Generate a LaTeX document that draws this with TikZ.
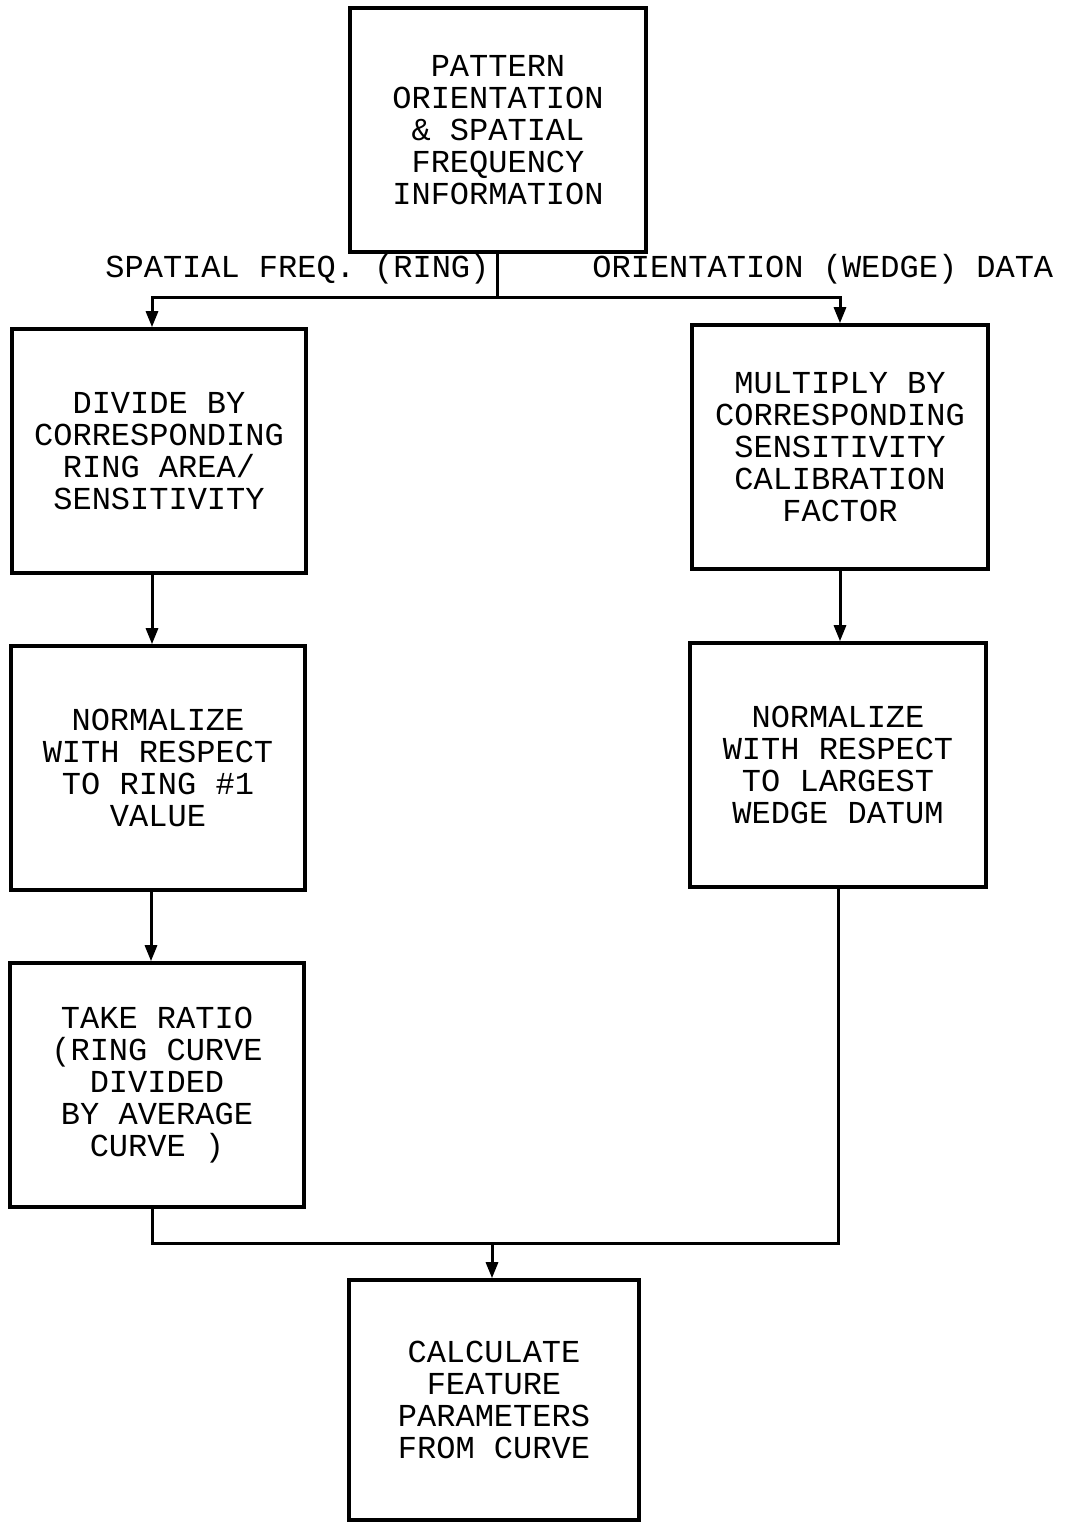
\documentclass[tikz,border=0pt]{standalone}
\usepackage{fontspec}
\setmonofont{Liberation Mono}
\usetikzlibrary{arrows.meta}

\begin{document}
\begin{tikzpicture}[
    x=0.5pt, y=-0.5pt,
    stepbox/.style={draw, line width=1.8pt,
                    minimum width=147pt, minimum height=122pt,
                    align=center, font=\ttfamily\fontsize{16}{16}\selectfont},
    lbl/.style={anchor=base west, inner sep=0pt,
                font=\ttfamily\fontsize{16}{16}\selectfont},
    arr/.style={-{Triangle[length=8pt, width=6pt]}, line width=1.5pt},
    wire/.style={line width=1.5pt}
]
\useasboundingbox (0,0) rectangle (1065,1523);

% Source
\node[stepbox, minimum width=148pt] (info) at (498, 130)
  {PATTERN\\ORIENTATION\\\& SPATIAL\\FREQUENCY\\INFORMATION};

\node[lbl] (ringlbl)  at (105, 277) {SPATIAL FREQ. (RING)};
\node[lbl] (wedgelbl) at (592, 277) {ORIENTATION (WEDGE) DATA};

% Ring branch
\node[stepbox] (divide) at (159, 451)
  {DIVIDE BY\\CORRESPONDING\\RING AREA/\\SENSITIVITY};
\node[stepbox] (normring) at (158, 768)
  {NORMALIZE\\WITH RESPECT\\TO RING \#1\\VALUE};
\node[stepbox] (ratio) at (157, 1085)
  {TAKE RATIO\\(RING CURVE\\DIVIDED\\BY AVERAGE\\CURVE )};

% Wedge branch
\node[stepbox, minimum width=148pt] (multiply) at (840, 447)
  {MULTIPLY BY\\CORRESPONDING\\SENSITIVITY\\CALIBRATION\\FACTOR};
\node[stepbox, minimum width=148pt] (normwedge) at (838, 765)
  {NORMALIZE\\WITH RESPECT\\TO LARGEST\\WEDGE DATUM};

% Result
\node[stepbox, minimum width=145pt, minimum height=120pt] (calc) at (494, 1400)
  {CALCULATE\\FEATURE\\PARAMETERS\\FROM CURVE};

\coordinate (split) at (497, 297);
\coordinate (merge) at (492, 1243);

% Split
\draw[wire] (info.south -| split) -- (split);
\draw[arr] (split) -| ([xshift=-3.5pt]divide.north);
\draw[arr] (split) -| (multiply.north);

% Down the branches
\draw[arr] ([xshift=-3.5pt]divide.south) -- ([xshift=-3pt]normring.south |- normring.north);
\draw[arr] ([xshift=-3.5pt]normring.south) -- ([xshift=-3pt]ratio.north);
\draw[arr] (multiply.south) -- (multiply.south |- normwedge.north);

% Merge
\draw[wire] ([xshift=-2.5pt]ratio.south) |- (merge);
\draw[wire] (normwedge.south) |- (merge);
\draw[arr] (merge) -- (merge |- calc.north);
\end{tikzpicture}
\end{document}
